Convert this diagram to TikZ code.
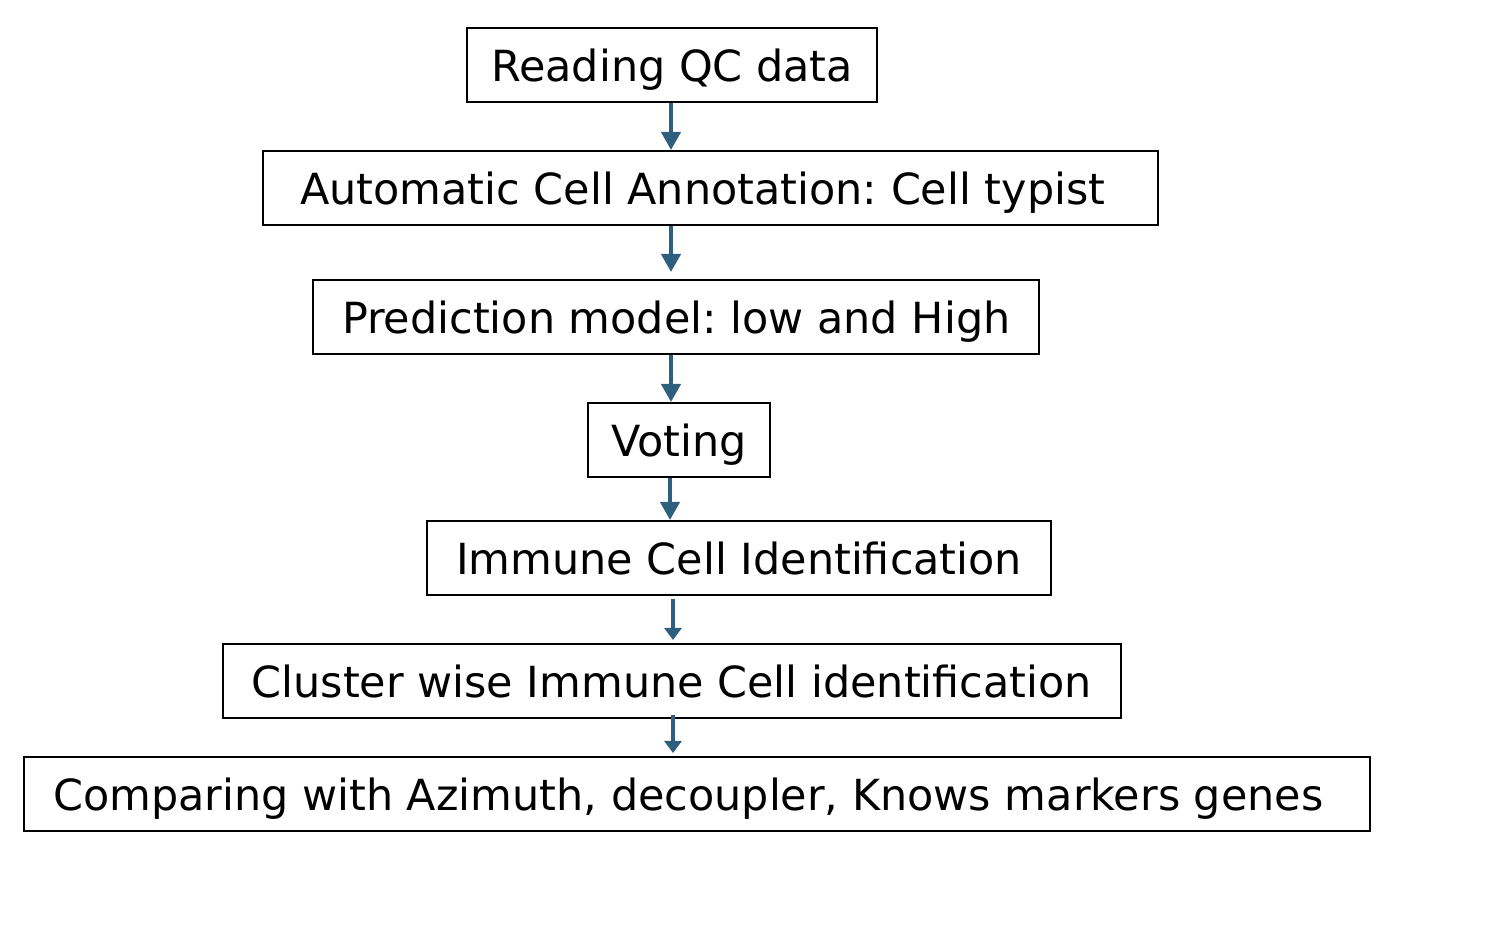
\documentclass[tikz,border=0pt]{standalone}
\usepackage{fontspec}
\setmainfont{DejaVu Sans}
\usetikzlibrary{arrows.meta}
\definecolor{flowblue}{HTML}{2F5F7F}
\frenchspacing

\begin{document}
\begin{tikzpicture}[x=0.01cm, y=-0.01cm, font=\fontsize{12.2pt}{14pt}\selectfont,
  stepbox/.style={draw, line width=0.02cm, minimum height=0.74cm, inner xsep=0pt, inner ysep=0pt,
    text height=0.33cm, text depth=0pt},
  flow/.style={draw=flowblue, line width=0.04cm, -{Triangle[width=0.19cm, length=0.18cm]}},
  flowsmall/.style={draw=flowblue, line width=0.035cm, -{Triangle[width=0.17cm, length=0.12cm]}}]

\useasboundingbox (0,0) rectangle (1488,940);

% ==================== STEPS ====================
\node[stepbox, minimum width=4.10cm, anchor=north west] (read) at (466,27) {Reading QC data};
\node[stepbox, minimum width=8.94cm, anchor=north west] (annot) at (262,150) {Automatic Cell Annotation: Cell typist\hspace*{0.35em}};
\node[stepbox, minimum width=7.26cm, anchor=north west] (predict) at (312,279) {Prediction model: low and High};
\node[stepbox, minimum width=1.82cm, anchor=north west] (vote) at (587,402) {Voting};
\node[stepbox, minimum width=6.24cm, anchor=north west] (immune) at (426,520) {Immune Cell Identification};
\node[stepbox, minimum width=8.97cm, anchor=north west] (cluster) at (222,643) {Cluster wise Immune Cell identification};
\node[stepbox, minimum width=13.45cm, anchor=north west] (compare) at (23,756) {Comparing with Azimuth, decoupler, Knows markers genes\hspace*{0.4em}};

% Arrow axes (not quite centred on the boxes)
\coordinate (axisA) at (671,0);
\coordinate (axisB) at (670,0);
\coordinate (axisC) at (673,0);

% ==================== ARROWS ====================
\draw[flow] (read.south -| axisA) -- (annot.north -| axisA);
\draw[flow, shorten >=0.07cm] (annot.south -| axisA) -- (predict.north -| axisA);
\draw[flow] (predict.south -| axisA) -- (vote.north -| axisA);
\draw[flow] (vote.south -| axisB) -- (immune.north -| axisB);
\draw[flowsmall, shorten <=0.03cm, shorten >=0.03cm] (immune.south -| axisC) -- (cluster.north -| axisC);
\draw[flowsmall, shorten <=-0.04cm, shorten >=0.03cm] (cluster.south -| axisC) -- (compare.north -| axisC);

\end{tikzpicture}
\end{document}
